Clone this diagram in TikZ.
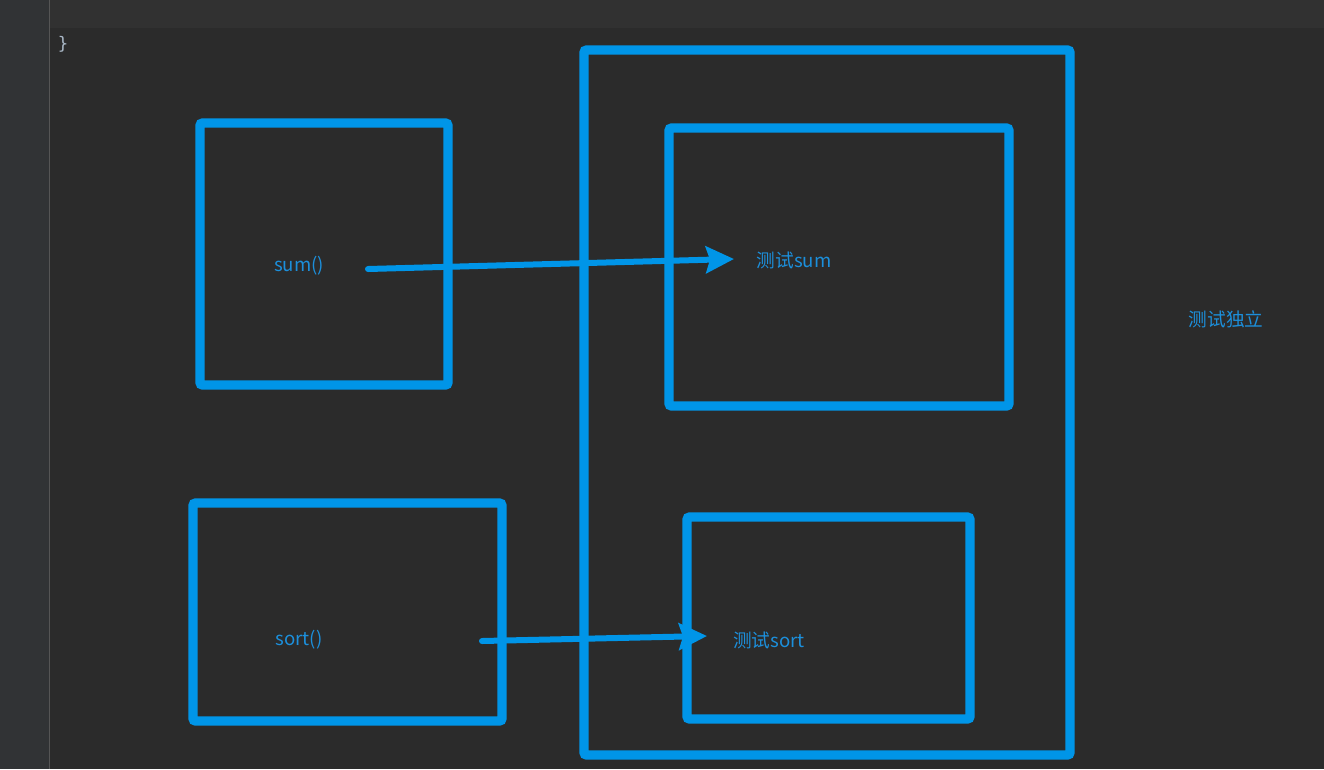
\documentclass[tikz,border=0pt]{standalone}
\usepackage{fontspec}
\newfontfamily\cjk{Noto Sans CJK SC}
\setmonofont{DejaVu Sans Mono}
\usetikzlibrary{arrows.meta}
\definecolor{bg}{HTML}{2B2B2B}
\definecolor{topbar}{HTML}{313131}
\definecolor{gutter}{HTML}{313335}
\definecolor{gline}{HTML}{555555}
\definecolor{boxblue}{HTML}{0095E8}
\definecolor{txtblue}{HTML}{1C8FDB}
\definecolor{code}{HTML}{A9B7C6}
\tikzset{
  blubox/.style={draw=boxblue, line width=7pt, rounded corners=2pt, inner sep=0pt},
  lbl/.style={text=txtblue, font=\cjk\fontsize{14}{16}\selectfont, inner sep=0pt},
  conn/.style={draw=boxblue, line width=4.5pt, line cap=round,
    -{Stealth[length=21pt,width=20pt,inset=3pt]}},
}
\begin{document}
\begin{tikzpicture}[x=0.75pt,y=-0.75pt]
\useasboundingbox (0,0) rectangle (1324,769);
\fill[bg] (0,0) rectangle (1324,769);
\fill[topbar] (49,0) rectangle (1324,28);
\fill[gutter] (0,0) rectangle (49,769);
\draw[gline, line width=1pt] (49.5,0) -- (49.5,769);
\node[text=code, font=\ttfamily\fontsize{13}{15}\selectfont, inner sep=0pt] (brace) at (63,44) {\}};
% boxes
\node[blubox, minimum width=248*0.75pt, minimum height=262*0.75pt] (bsum) at (324,254) {};
\node[blubox, minimum width=309*0.75pt, minimum height=218*0.75pt] (bsort) at (347.5,612) {};
\node[blubox, minimum width=486*0.75pt, minimum height=705*0.75pt] (big) at (827,402.5) {};
\node[blubox, minimum width=340*0.75pt, minimum height=278*0.75pt] (tsum) at (839,267) {};
\node[blubox, minimum width=283*0.75pt, minimum height=202*0.75pt] (tsort) at (828.5,618) {};
% labels
\node[lbl] (lsum) at (299,266) {sum()};
\node[lbl] (lsort) at (299,640) {sort()};
\node[lbl] (ltsum) at (794,260) {测试sum};
\node[lbl] (ltsort) at (769,640) {测试sort};
\node[lbl] (lind) at (1226,319) {测试独立};
% connectors
\coordinate (a1s) at (368,269);
\coordinate (a1e) at (734,259);
\coordinate (a2s) at (482,641);
\coordinate (a2e) at (707,636);
\draw[conn] (a1s) -- (a1e);
\draw[conn] (a2s) -- (a2e);
\end{tikzpicture}
\end{document}
